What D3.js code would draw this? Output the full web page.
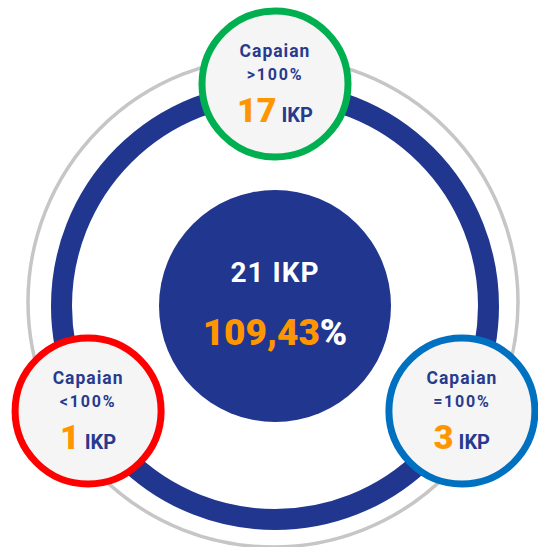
<!DOCTYPE html>
<html>
<head>
<meta charset="utf-8">
<script src="https://cdn.jsdelivr.net/npm/d3@7"></script>
<style>
  html, body { margin: 0; padding: 0; background: #fff; }
  svg { display: block; font-family: Roboto, "Open Sans", sans-serif; }
</style>
</head>
<body>
<script>
// data
const categories = ["Capaian", "Capaian", "Capaian"];
const thresholds = [">100%", "<100%", "=100%"];
const counts = [17, 1, 3];
const ringColors = ["#00b050", "#ff0000", "#0070c0"];
const angles = [-90, 150, 30]; // position of each badge on the ring (deg)
const totalLabel = "21 IKP";
const totalPercent = "109,43";

const width = 538;
const height = 547;
const cx = 275;
const cy = 306;

const navy = "#20368f";
const orange = "#ff9600";

const svg = d3
  .select("body")
  .append("svg")
  .attr("width", width)
  .attr("height", height);

// outer gray ring
svg
  .append("circle")
  .attr("cx", 273)
  .attr("cy", 302)
  .attr("r", 245)
  .attr("fill", "none")
  .attr("stroke", "#c6c6c6")
  .attr("stroke-width", 3.5);

// thick blue ring
svg
  .append("circle")
  .attr("cx", cx)
  .attr("cy", cy)
  .attr("r", 213.5)
  .attr("fill", "none")
  .attr("stroke", navy)
  .attr("stroke-width", 21);

// center disc
svg
  .append("circle")
  .attr("cx", cx)
  .attr("cy", cy)
  .attr("r", 116)
  .attr("fill", navy);

svg
  .append("text")
  .attr("x", cx)
  .attr("y", 282)
  .attr("text-anchor", "middle")
  .attr("fill", "#fff")
  .attr("font-size", 28)
  .attr("font-weight", 700)
  .attr("letter-spacing", 1)
  .text(totalLabel);

const pct = svg
  .append("text")
  .attr("x", cx)
  .attr("y", 345)
  .attr("text-anchor", "middle")
  .attr("font-size", 37)
  .attr("font-weight", 900);
pct.append("tspan").attr("fill", orange).text(totalPercent);
pct.append("tspan").attr("fill", "#fff").text("%");

// badges placed on an orbit around the centre
const orbit = d3.scaleLinear().domain([0, 1]).range([0, 218]);
const badges = categories.map((c, i) => {
  const a = (angles[i] * Math.PI) / 180;
  return {
    label: c,
    threshold: thresholds[i],
    count: counts[i],
    color: ringColors[i],
    x: cx + orbit(Math.cos(a)) * 0.99,
    y: 302 + orbit(Math.sin(a)),
  };
});

const g = svg
  .selectAll("g.badge")
  .data(badges)
  .enter()
  .append("g")
  .attr("class", "badge")
  .attr("transform", (d) => `translate(${d.x},${d.y})`);

g.append("circle")
  .attr("r", 73)
  .attr("fill", "#f5f5f5")
  .attr("stroke", (d) => d.color)
  .attr("stroke-width", 7);

g.append("text")
  .attr("y", -27)
  .attr("text-anchor", "middle")
  .attr("fill", "#283a8e")
  .attr("font-size", 17.5)
  .attr("font-weight", 700)
  .attr("letter-spacing", 1)
  .text((d) => d.label);

g.append("text")
  .attr("y", -4)
  .attr("text-anchor", "middle")
  .attr("fill", "#283a8e")
  .attr("font-size", 16)
  .attr("font-weight", 700)
  .attr("letter-spacing", 1.8)
  .text((d) => d.threshold);

const num = g
  .append("text")
  .attr("y", 38)
  .attr("text-anchor", "middle");
num
  .append("tspan")
  .attr("fill", orange)
  .attr("font-size", 34)
  .attr("font-weight", 900)
  .text((d) => d.count);
num
  .append("tspan")
  .attr("fill", "#283a8e")
  .attr("font-size", 20)
  .attr("font-weight", 700)
  .attr("dx", 5)
  .text("IKP");
</script>
</body>
</html>
